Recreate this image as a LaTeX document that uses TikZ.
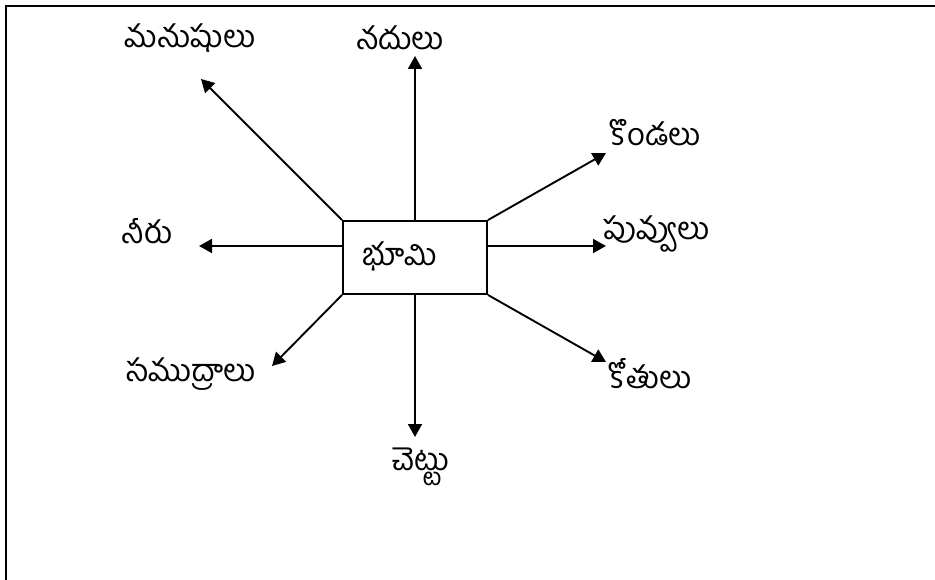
\documentclass[tikz,border=0pt]{standalone}
\usepackage{fontspec}
\newfontfamily\telugu[Script=Telugu]{Hind Guntur}
\usetikzlibrary{arrows.meta}
\begin{document}
\begin{tikzpicture}[x=1pt,y=-1pt,
  lbl/.style={font=\telugu\fontsize{31}{34}\selectfont, inner sep=0pt},
  arr/.style={line width=1.9pt, -{Triangle[length=13pt,width=14pt]}},
  frame/.style={line width=2.4pt}]
\useasboundingbox (0,0) rectangle (935,580);
\draw[frame] (6,580) -- (6,6) -- (935,6);
\node[draw, line width=1.9pt, minimum width=144pt, minimum height=73pt, inner sep=0pt] (box) at (415,257.5) {};
\node[lbl] (bhumi) at (400,256) {భూమి};
\node[lbl] (manu) at (190,38) {మనుషులు};
\node[lbl] (nadu) at (400,38) {నదులు};
\node[lbl] (konda) at (655,133) {కొండలు};
\node[lbl] (puvvu) at (657,234) {పువ్వులు};
\node[lbl] (neeru) at (147,231) {నీరు};
\node[lbl] (samu) at (191,374) {సముద్రాలు};
\node[lbl] (kothu) at (650,374) {కోతులు};
\node[lbl] (chettu) at (421,467) {చెట్టు};
\coordinate (tU) at (415,56);
\coordinate (tUL) at (201,79);
\coordinate (tUR) at (606,153);
\coordinate (tR) at (606,246);
\coordinate (tDR) at (606,362);
\coordinate (tL) at (199,246);
\coordinate (tDL) at (272,366);
\coordinate (tD) at (415,437);
\draw[arr] (box.north) -- (tU);
\draw[arr] (box.north west) -- (tUL);
\draw[arr] (box.north east) -- (tUR);
\draw[arr] (box.east |- tR) -- (tR);
\draw[arr] (box.south east) -- (tDR);
\draw[arr] (box.west |- tL) -- (tL);
\draw[arr] (box.south west) -- (tDL);
\draw[arr] (box.south) -- (tD);
\end{tikzpicture}
\end{document}
